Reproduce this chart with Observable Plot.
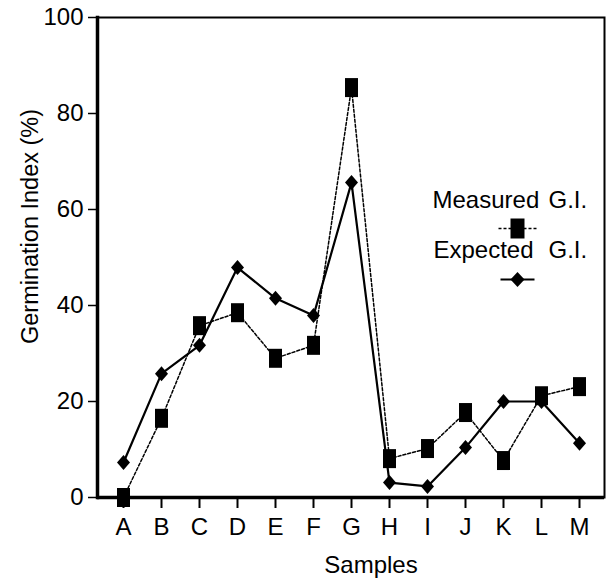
<!DOCTYPE html>
<html><head><meta charset="utf-8">
<script src="https://cdn.jsdelivr.net/npm/d3@7"></script>
<script src="https://cdn.jsdelivr.net/npm/@observablehq/plot@0.6"></script>
<style>
body{margin:0;background:#fff}
#chart svg{display:block}
</style>
</head><body><div id="chart"></div>
<script>
const samples = ["A","B","C","D","E","F","G","H","I","J","K","L","M"];
const measured = [0, 16.5, 35.8, 38.5, 29, 31.7, 85.4, 8.1, 10.2, 17.7, 7.7, 21.2, 23.1];
const expected = [7.3, 25.8, 31.7, 47.9, 41.5, 37.9, 65.6, 3.1, 2.3, 10.4, 20, 20, 11.3];
const yTicks = [0, 20, 40, 60, 80, 100];
const yLabel = "Germination Index (%)";
const xLabel = "Samples";
const legendNames = ["Measured", "Expected"];
const legendSuffix = "G.I.";

const measuredData = samples.map((s, i) => ({sample: s, value: measured[i]}));
const expectedData = samples.map((s, i) => ({sample: s, value: expected[i]}));

const font = "'Liberation Sans', Arial, Helvetica, sans-serif";

const rectSym = {draw(ctx) { const w = 6.5, h = 9.5; ctx.moveTo(-w, -h); ctx.lineTo(w, -h); ctx.lineTo(w, h); ctx.lineTo(-w, h); ctx.closePath(); }};
const diamondSym = {draw(ctx) { const w = 6.5, h = 7.5; ctx.moveTo(0, -h); ctx.lineTo(w, 0); ctx.lineTo(0, h); ctx.lineTo(-w, 0); ctx.closePath(); }};
const legendRect = {draw(ctx) { const w = 7, h = 10; ctx.moveTo(-w, -h); ctx.lineTo(w, -h); ctx.lineTo(w, h); ctx.lineTo(-w, h); ctx.closePath(); }};
const legendDiamond = {draw(ctx) { const w = 7, h = 7.5; ctx.moveTo(0, -h); ctx.lineTo(w, 0); ctx.lineTo(0, h); ctx.lineTo(-w, 0); ctx.closePath(); }};
const legendDash = {draw(ctx) { ctx.moveTo(-19, 0); ctx.lineTo(19, 0); }};
const legendSolid = {draw(ctx) { ctx.moveTo(-17, 0); ctx.lineTo(17, 0); }};

const chart = Plot.plot({
  width: 612,
  height: 578,
  marginLeft: 97,
  marginRight: 8,
  marginTop: 17,
  marginBottom: 81,
  style: {fontFamily: font, color: "#000", background: "#fff"},
  x: {type: "point", domain: samples, padding: 0.55, label: null},
  y: {domain: [0, 100], ticks: yTicks, label: null},
  marks: [
    Plot.frame({strokeWidth: 2}),
    Plot.frame({anchor: "left", strokeWidth: 3.5}),
    Plot.ruleY([0], {strokeWidth: 3.5}),
    Plot.axisY({ticks: yTicks, tickSize: 9, tickPadding: 5, fontSize: 24, strokeWidth: 1.5, label: null}),
    Plot.axisX({tickSize: 11, tickPadding: 9, fontSize: 24, strokeWidth: 2, label: null}),
    Plot.line(measuredData, {x: "sample", y: "value", stroke: "#000", strokeWidth: 1.5, strokeDasharray: "3,2"}),
    Plot.line(expectedData, {x: "sample", y: "value", stroke: "#000", strokeWidth: 2.2}),
    Plot.dot(measuredData, {x: "sample", y: "value", symbol: rectSym, fill: "#000", stroke: "none"}),
    Plot.dot(expectedData, {x: "sample", y: "value", symbol: diamondSym, fill: "#000", stroke: "none"}),
    Plot.text([yLabel], {frameAnchor: "left", rotate: -90, dx: -67, dy: -31, fontSize: 23.5, lineAnchor: "middle", textAnchor: "middle", fill: "#000"}),
    Plot.text([xLabel], {frameAnchor: "bottom", dx: 20, dy: 68, fontSize: 24, lineAnchor: "middle", textAnchor: "middle", fill: "#000"}),
    Plot.text([legendNames[0]], {frameAnchor: "top-left", dx: 432 - 97, dy: 200 - 17, fontSize: 24, textAnchor: "start", lineAnchor: "middle", fill: "#000"}),
    Plot.text([legendSuffix], {frameAnchor: "top-left", dx: 548 - 97, dy: 200 - 17, fontSize: 24, textAnchor: "start", lineAnchor: "middle", fill: "#000"}),
    Plot.text([legendNames[1]], {frameAnchor: "top-left", dx: 433 - 97, dy: 250 - 17, fontSize: 24, textAnchor: "start", lineAnchor: "middle", fill: "#000"}),
    Plot.text([legendSuffix], {frameAnchor: "top-left", dx: 548 - 97, dy: 250 - 17, fontSize: 24, textAnchor: "start", lineAnchor: "middle", fill: "#000"}),
    Plot.dot([legendNames[0]], {frameAnchor: "top-left", dx: 517 - 97, dy: 228 - 17, symbol: legendDash, fill: "none", stroke: "#000", strokeWidth: 1.5, strokeDasharray: "3,2"}),
    Plot.dot([legendNames[0]], {frameAnchor: "top-left", dx: 517 - 97, dy: 228 - 17, symbol: legendRect, fill: "#000", stroke: "none"}),
    Plot.dot([legendNames[1]], {frameAnchor: "top-left", dx: 517 - 97, dy: 279 - 17, symbol: legendSolid, fill: "none", stroke: "#000", strokeWidth: 2}),
    Plot.dot([legendNames[1]], {frameAnchor: "top-left", dx: 517 - 97, dy: 279 - 17, symbol: legendDiamond, fill: "#000", stroke: "none"})
  ]
});
document.getElementById("chart").append(chart);
</script>
</body></html>
